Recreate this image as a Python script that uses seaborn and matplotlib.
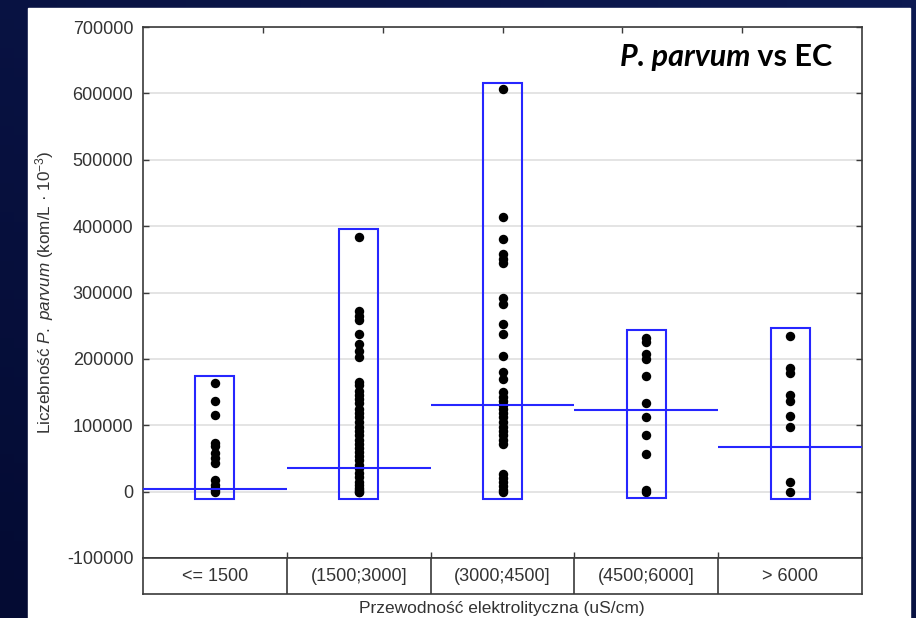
import numpy as np
import pandas as pd
import matplotlib
matplotlib.use("Agg")
import matplotlib.pyplot as plt
from matplotlib.patches import Rectangle
from matplotlib.colors import LinearSegmentedColormap
import seaborn as sns

# categories of electrolytic conductivity (uS/cm)
categories = ["<= 1500", "(1500;3000]", "(3000;4500]", "(4500;6000]", "> 6000"]

# P. parvum counts, one list per category
counts_le1500 = [163000, 136000, 115000, 73000, 68000, 58000, 50000, 43000,
                 17000, 10000, 5000, 2000, 0]
counts_1500_3000 = [384000, 272000, 265000, 258000, 237000, 222000, 212000, 203000,
                    165000, 160000, 152000, 145000, 140000, 133000, 125000, 118000,
                    112000, 105000, 98000, 92000, 85000, 78000, 72000, 66000, 60000,
                    53000, 47000, 40000, 35000, 28000, 22000, 15000, 10000, 5000,
                    2000, 0, 0]
counts_3000_4500 = [606000, 414000, 381000, 358000, 350000, 344000, 292000, 283000,
                    253000, 237000, 204000, 180000, 170000, 150000, 143000, 137000,
                    130000, 125000, 118000, 112000, 105000, 98000, 92000, 85000,
                    78000, 72000, 26000, 20000, 14000, 8000, 3000, 0]
counts_4500_6000 = [232000, 225000, 208000, 200000, 174000, 134000, 113000, 85000,
                    56000, 2000, 0]
counts_gt6000 = [235000, 187000, 178000, 145000, 137000, 114000, 98000, 15000, 0]

# blue median lines and range boxes
median_values = [3800, 35000, 130000, 122500, 67500]
box_low = [-11500, -11700, -11300, -9800, -11700]
box_high = [173500, 395800, 615300, 242800, 246900]

ytick_values = [-100000, 0, 100000, 200000, 300000, 400000, 500000, 600000, 700000]

all_counts = [counts_le1500, counts_1500_3000, counts_3000_4500,
              counts_4500_6000, counts_gt6000]
df = pd.DataFrame({
    "ec": [c for c, vals in zip(categories, all_counts) for _ in vals],
    "count": [v for vals in all_counts for v in vals],
})

sns.set_theme(style="white")
plt.rcParams["font.family"] = ["Liberation Sans", "DejaVu Sans"]
plt.rcParams["mathtext.fontset"] = "custom"
plt.rcParams["mathtext.rm"] = "Liberation Sans"
plt.rcParams["mathtext.it"] = "Liberation Sans:italic"

W, H = 916, 618
fig = plt.figure(figsize=(W / 100, H / 100), dpi=100)

# navy slide background
bg = fig.add_axes([0, 0, 1, 1], zorder=-10)
gx, gy = np.meshgrid(np.linspace(0, 1, 64), np.linspace(0, 1, 64))
navy = LinearSegmentedColormap.from_list("navy", ["#0d1a52", "#040b33"])
bg.imshow(0.5 * gy + 0.5 * (1 - gx), cmap=navy, aspect="auto", extent=[0, 1, 0, 1])
bg.axis("off")
fig.add_artist(Rectangle((28 / W, 0), (910 - 28) / W, (618 - 8) / H,
                         transform=fig.transFigure, color="white", zorder=-5))

text_col = "#333333"
frame_col = "#3a3a3a"
blue = "#2626ff"

ax = fig.add_axes([143 / W, (H - 558) / H, 719 / W, 531 / H])
sns.stripplot(data=df, x="ec", y="count", order=categories, jitter=False,
              color="black", size=6.8, linewidth=0, ax=ax, zorder=3)

for i in range(len(categories)):
    ax.add_patch(Rectangle((i - 0.135, box_low[i]), 0.27, box_high[i] - box_low[i],
                           fill=False, edgecolor=blue, lw=1.5, zorder=4))
pos = np.arange(len(categories))
ax.hlines(median_values, pos - 0.5, pos + 0.5, color=blue, lw=1.5, zorder=4)

ax.set_xlim(-0.5, len(categories) - 0.5)
ax.set_ylim(-100000, 700000)
ax.set_yticks(ytick_values)
ax.set_yticklabels([str(v) for v in ytick_values], fontsize=13, color=text_col)
ax.set_xticks(pos[:-1] + 0.5)
ax.set_xticklabels([])
ax.set_xlabel("")
ax.set_ylabel("")
ax.yaxis.grid(True, color="#dcdcdc", lw=1.1)
ax.set_axisbelow(True)
ax.tick_params(axis="y", direction="in", length=4, width=1, color=frame_col,
               left=True, right=True, pad=7)
ax.tick_params(axis="x", direction="in", length=4, width=1, color=frame_col,
               bottom=True, top=False)
for s in ax.spines.values():
    s.set_color(frame_col)
    s.set_linewidth(1.2)

top = ax.secondary_xaxis("top")
top.set_xticks([-0.5 + k * 5 / 6 for k in range(1, 6)])
top.set_xticklabels([])
top.tick_params(direction="in", length=4, width=1, color=frame_col)
top.spines["top"].set_visible(False)

# category strip under the plot
tab = fig.add_axes([143 / W, (H - 594) / H, 719 / W, 36 / H])
tab.set_xlim(-0.5, len(categories) - 0.5)
tab.set_ylim(0, 1)
tab.vlines(pos[:-1] + 0.5, 0, 1, color=frame_col, lw=1.2)
for i, c in enumerate(categories):
    tab.text(i, 0.48, c, ha="center", va="center", fontsize=13, color=text_col)
tab.set_xticks([])
tab.set_yticks([])
for s in tab.spines.values():
    s.set_color(frame_col)
    s.set_linewidth(1.2)

fig.text(45 / W, 1 - 292.5 / H,
         r"Liczebność $\mathit{P.}$ $\mathit{parvum}$ (kom/L · 10$^{-3}$)",
         rotation=90, ha="center", va="center", fontsize=12.3, color=text_col)
fig.text(502 / W, 5 / H, "Przewodność elektrolityczna (uS/cm)",
         ha="center", va="baseline", fontsize=12.5, color=text_col)

t = fig.text(832 / W, (H - 66) / H, " vs EC", ha="right", va="baseline",
             fontsize=22, fontweight="bold", family="Lato", color="black")
ax.annotate("P. parvum", xy=(0, 0), xycoords=t, ha="right", va="bottom",
            fontsize=22, fontweight="bold", fontstyle="italic", family="Lato",
            color="black", annotation_clip=False)

fig.savefig("out.png", dpi=100)
